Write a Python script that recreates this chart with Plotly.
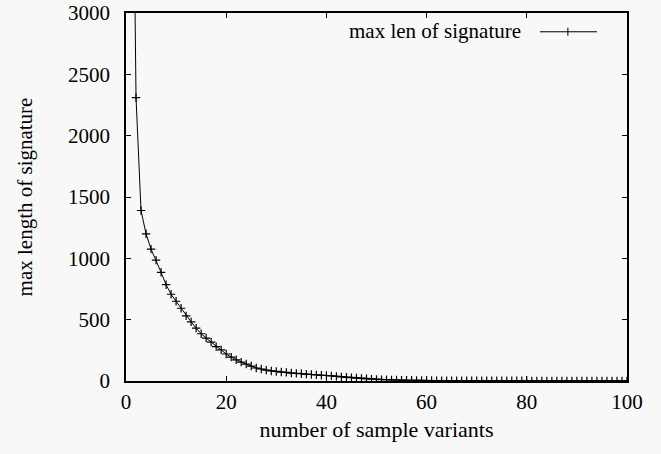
import plotly.graph_objects as go

# Data
variants = list(range(1, 101))
max_len = [6000, 2310, 1390, 1200, 1075, 985, 886, 785, 707, 650,
           593, 531, 482, 431, 385, 350, 317, 280, 254, 220,
           195, 173, 154, 138, 122, 106, 98, 89, 82, 78,
           73, 70, 65, 62, 59, 56, 53, 50, 47, 45,
           42, 38, 34, 30, 27, 24, 21, 18, 15, 13,
           11, 10, 9, 8, 7, 6, 6, 5, 5, 4,
           4, 3, 3, 3, 3, 3, 2, 2, 2, 2,
           2, 2, 2, 2, 2, 2, 2, 2, 2, 2,
           1, 1, 1, 1, 1, 1, 1, 1, 1, 1,
           1, 1, 1, 1, 1, 1, 1, 1, 1, 1]
x_ticks = [0, 20, 40, 60, 80, 100]
y_ticks = [0, 500, 1000, 1500, 2000, 2500, 3000]
series_name = "max len of signature"

FONT = "Liberation Serif"
BG = "#f8f8f8"
FS = 21

fig = go.Figure()
fig.add_trace(go.Scatter(
    x=variants, y=max_len, mode="lines+markers", name=series_name,
    line=dict(color="black", width=1),
    marker=dict(symbol="cross-thin", size=6, line=dict(color="black", width=1.2)),
    showlegend=False,
))

axis_common = dict(
    showgrid=False, zeroline=False, showline=True, linecolor="black", linewidth=1.5,
    mirror="ticks", ticks="inside", ticklen=5, tickcolor="black", tickwidth=1,
    tickfont=dict(family=FONT, size=FS, color="black"), automargin=False,
)
fig.update_xaxes(range=[0, 100], tickvals=x_ticks, ticklabelstandoff=1,
                 title=dict(text="number of sample variants", font=dict(family=FONT, size=22, color="black"), standoff=9),
                 **axis_common)
fig.update_yaxes(range=[0, 3000], tickvals=y_ticks, ticklabelstandoff=10,
                 title=dict(text="max length of signature", font=dict(family=FONT, size=FS, color="black"), standoff=30),
                 **axis_common)

# gnuplot-style legend: text then sample line
fig.add_annotation(xref="paper", yref="paper", x=0.7924, y=0.951, xanchor="right", yanchor="middle",
                   text=series_name, showarrow=False, font=dict(family=FONT, size=FS, color="black"))
fig.add_shape(type="line", xref="paper", yref="paper", x0=0.8263, x1=0.9401, y0=0.949, y1=0.949,
              line=dict(color="black", width=1))
fig.add_shape(type="line", xref="paper", yref="paper", x0=0.882, x1=0.882, y0=0.938, y1=0.96,
              line=dict(color="black", width=1))

fig.update_layout(
    width=661, height=454,
    margin=dict(l=126, r=34, t=13, b=73),
    paper_bgcolor=BG, plot_bgcolor=BG,
    font=dict(family=FONT, color="black"),
)
fig.write_html("out.html")
